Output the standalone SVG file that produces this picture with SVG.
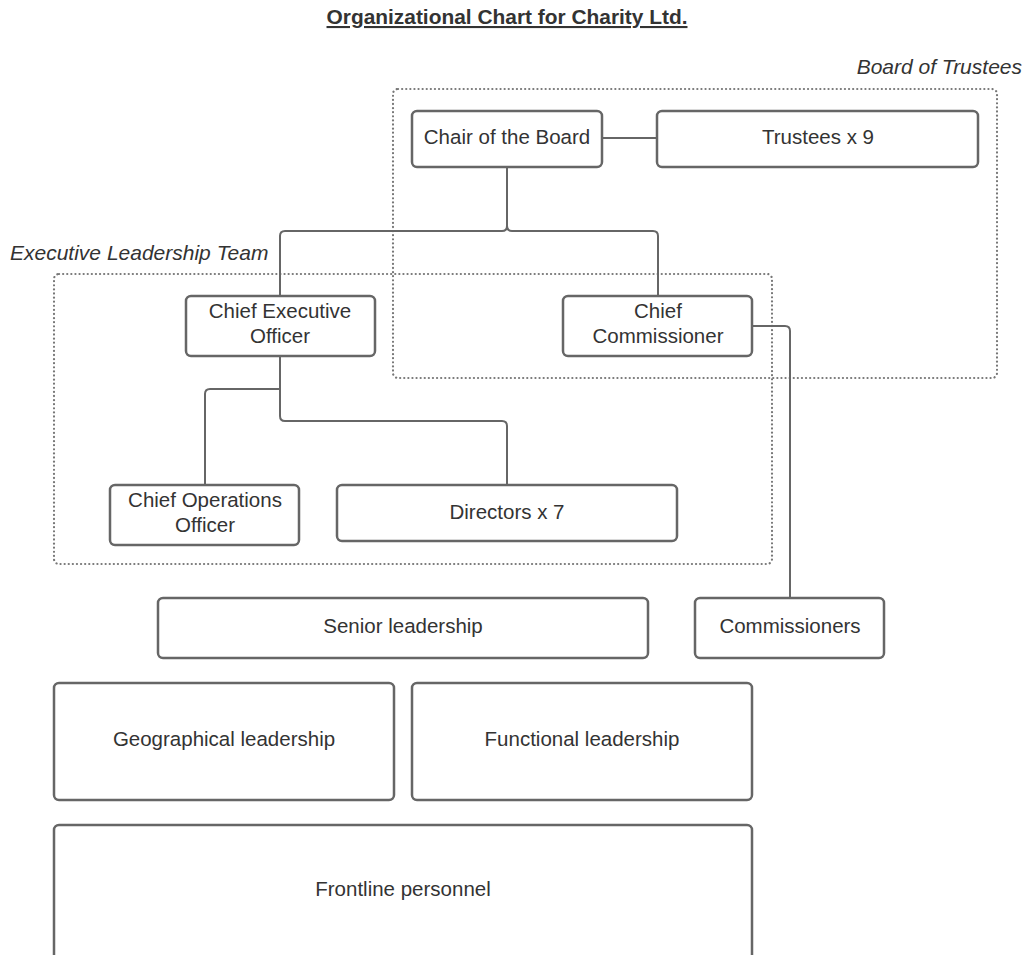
<svg xmlns="http://www.w3.org/2000/svg" width="1027" height="955" viewBox="0 0 1027 955">
<style>
.box{fill:#fff;stroke:#666;stroke-width:2.5}
.grp{fill:none;stroke:#777;stroke-width:2.2;stroke-dasharray:0.1 4;stroke-linecap:round}
.t{font-family:"Liberation Sans",Arial,sans-serif;font-size:20.5px;fill:#333;text-anchor:middle}
.gl{font-family:"Liberation Sans",Arial,sans-serif;font-size:21px;fill:#333;font-style:italic}
.c{fill:none;stroke:#666;stroke-width:2}
</style>
<rect width="1027" height="955" fill="#fff"/>
<text x="507" y="24" font-family="Liberation Sans, Arial, sans-serif" font-size="20.9" font-weight="bold" fill="#333" text-anchor="middle" text-decoration="underline">Organizational Chart for Charity Ltd.</text>

<g id="board-of-trustees">
<rect class="grp" x="393" y="89" width="604" height="289" rx="5"/>
<text class="gl" x="1022" y="74" text-anchor="end">Board of Trustees</text>
</g>
<g id="executive-leadership-team">
<rect class="grp" x="54" y="274" width="718" height="290" rx="5"/>
<text class="gl" x="10" y="260">Executive Leadership Team</text>
</g>

<g id="connectors">
<path class="c" d="M602 138 H657"/>
<path class="c" d="M507 167 V226 Q507 231 502 231 H285 Q280 231 280 236 V296"/>
<path class="c" d="M507 226 Q507 231 512 231 H653 Q658 231 658 236 V296"/>
<path class="c" d="M752 326 H785 Q790 326 790 331 V598"/>
<path class="c" d="M280 356 V389 H210 Q205 389 205 394 V485"/>
<path class="c" d="M280 389 V416 Q280 421 285 421 H502 Q507 421 507 426 V485"/>
</g>

<g id="chair">
<rect class="box" x="412" y="111" width="190" height="56" rx="5"/>
<text class="t" x="507" y="144">Chair of the Board</text>
</g>
<g id="trustees">
<rect class="box" x="657" y="111" width="321" height="56" rx="5"/>
<text class="t" x="818" y="144">Trustees x 9</text>
</g>
<g id="ceo">
<rect class="box" x="186" y="296" width="189" height="60" rx="5"/>
<text class="t" x="280" y="318">Chief Executive</text>
<text class="t" x="280" y="343">Officer</text>
</g>
<g id="chief-commissioner">
<rect class="box" x="563" y="296" width="189" height="60" rx="5"/>
<text class="t" x="658" y="318">Chief</text>
<text class="t" x="658" y="343">Commissioner</text>
</g>
<g id="coo">
<rect class="box" x="110" y="485" width="189" height="60" rx="5"/>
<text class="t" x="205" y="507">Chief Operations</text>
<text class="t" x="205" y="532">Officer</text>
</g>
<g id="directors">
<rect class="box" x="337" y="485" width="340" height="56" rx="5"/>
<text class="t" x="507" y="519">Directors x 7</text>
</g>
<g id="senior-leadership">
<rect class="box" x="158" y="598" width="490" height="60" rx="5"/>
<text class="t" x="403" y="633">Senior leadership</text>
</g>
<g id="commissioners">
<rect class="box" x="695" y="598" width="189" height="60" rx="5"/>
<text class="t" x="790" y="633">Commissioners</text>
</g>
<g id="geographical-leadership">
<rect class="box" x="54" y="683" width="340" height="117" rx="5"/>
<text class="t" x="224" y="746">Geographical leadership</text>
</g>
<g id="functional-leadership">
<rect class="box" x="412" y="683" width="340" height="117" rx="5"/>
<text class="t" x="582" y="746">Functional leadership</text>
</g>
<g id="frontline-personnel">
<rect class="box" x="54" y="825" width="698" height="140" rx="5"/>
<text class="t" x="403" y="896">Frontline personnel</text>
</g>
</svg>
